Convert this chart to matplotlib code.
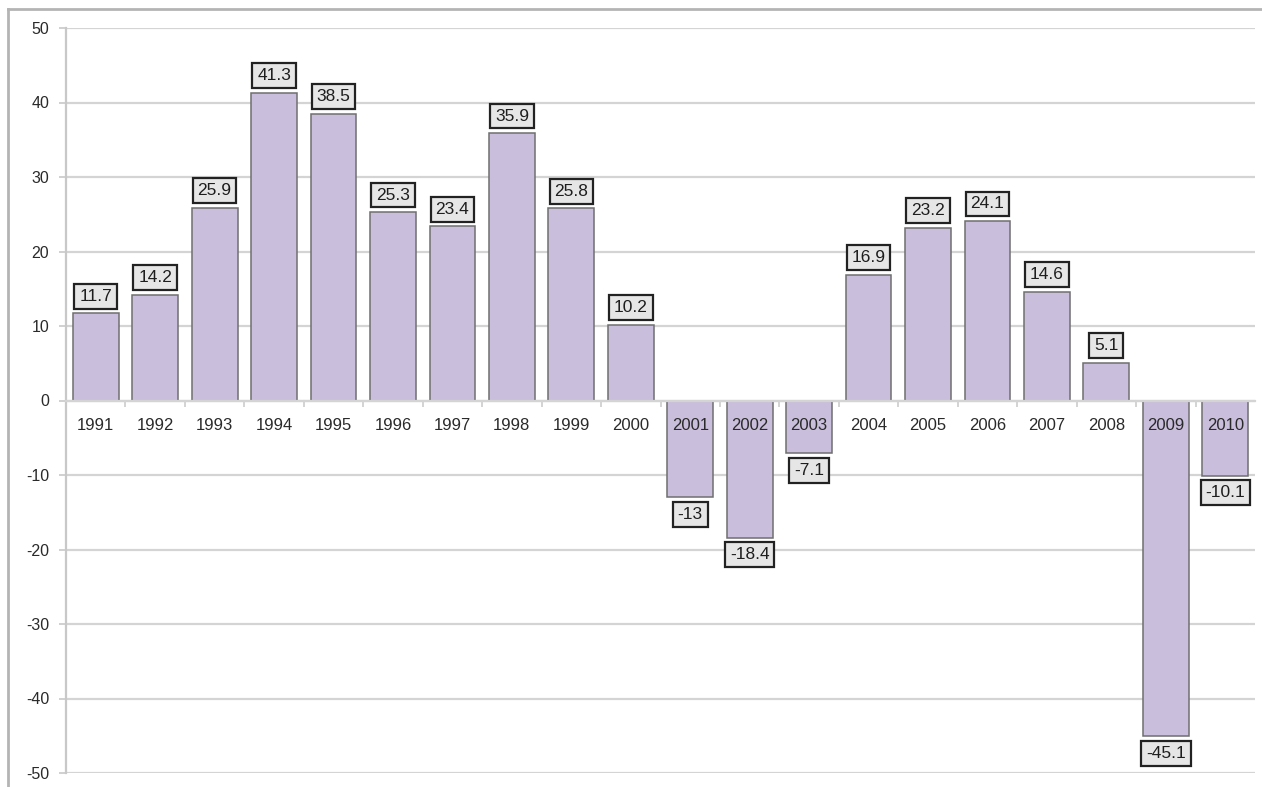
import matplotlib
matplotlib.use("Agg")
import matplotlib.pyplot as plt
from matplotlib.lines import Line2D

years = [str(y) for y in range(1991, 2011)]
values = [11.7, 14.2, 25.9, 41.3, 38.5, 25.3, 23.4, 35.9, 25.8, 10.2,
          -13, -18.4, -7.1, 16.9, 23.2, 24.1, 14.6, 5.1, -45.1, -10.1]
value_labels = ["11.7", "14.2", "25.9", "41.3", "38.5", "25.3", "23.4", "35.9", "25.8", "10.2",
                "-13", "-18.4", "-7.1", "16.9", "23.2", "24.1", "14.6", "5.1", "-45.1", "-10.1"]
y_ticks = [50, 40, 30, 20, 10, 0, -10, -20, -30, -40, -50]

plt.rcParams['font.family'] = ['Liberation Sans', 'DejaVu Sans']
plt.rcParams['axes.unicode_minus'] = False

W, H = 1262, 787
fig = plt.figure(figsize=(W / 100, H / 100), dpi=100)
ax = fig.add_axes([66 / W, 14 / H, (1255 - 66) / W, (773 - 28) / H])

x = list(range(len(years)))
ax.bar(x, values, width=0.77, color="#c9bedb", edgecolor="#6f6f6f", linewidth=1.1, zorder=2)

ax.set_xlim(-0.5, len(years) - 0.5)
ax.set_ylim(-50, 50)
ax.set_yticks(y_ticks)
ax.yaxis.grid(True, color="#d4d4d4", linewidth=1.6, zorder=0)
ax.set_axisbelow(True)
ax.tick_params(axis="y", length=5, width=1.2, color="#c8c8c8", labelsize=11.5,
               labelcolor="#2a2a2a", pad=7)

for s in ["top", "right"]:
    ax.spines[s].set_visible(False)
ax.spines["left"].set_color("#c8c8c8")
ax.spines["left"].set_linewidth(1.6)
ax.spines["bottom"].set_position(("data", 0))
ax.spines["bottom"].set_color("#d4d4d4")
ax.spines["bottom"].set_linewidth(1.6)

# small ticks on the zero line between categories
ax.set_xticks([i + 0.5 for i in x[:-1]], minor=True)
ax.set_xticks([])
ax.tick_params(axis="x", which="minor", length=4, width=1.1, color="#c8c8c8", direction="out")

# category names sit just under the zero line, drawn over the bars
for i, yr in zip(x, years):
    ax.annotate(yr, (i, 0), xytext=(0, -25), textcoords="offset pixels",
                ha="center", va="center", fontsize=12, color="#2a2a2a", zorder=5)

# boxed value labels
for i, v, lab in zip(x, values, value_labels):
    off = 17 if v >= 0 else -17
    ax.annotate(lab, (i, v), xytext=(0, off), textcoords="offset pixels",
                ha="center", va="center", fontsize=12.5, color="#1e1e1e", zorder=6,
                bbox=dict(boxstyle="square,pad=0.28", facecolor="#e6e6e6",
                          edgecolor="#222222", linewidth=1.6))

# outer chart frame
fig.add_artist(Line2D([8 / W, 8 / W], [0, 1 - 9 / H], color="#b4b4b4", linewidth=2,
                      transform=fig.transFigure))
fig.add_artist(Line2D([8 / W, 1], [1 - 9 / H, 1 - 9 / H], color="#b4b4b4", linewidth=2,
                      transform=fig.transFigure))

fig.savefig("out.png", dpi=100, facecolor="white")
